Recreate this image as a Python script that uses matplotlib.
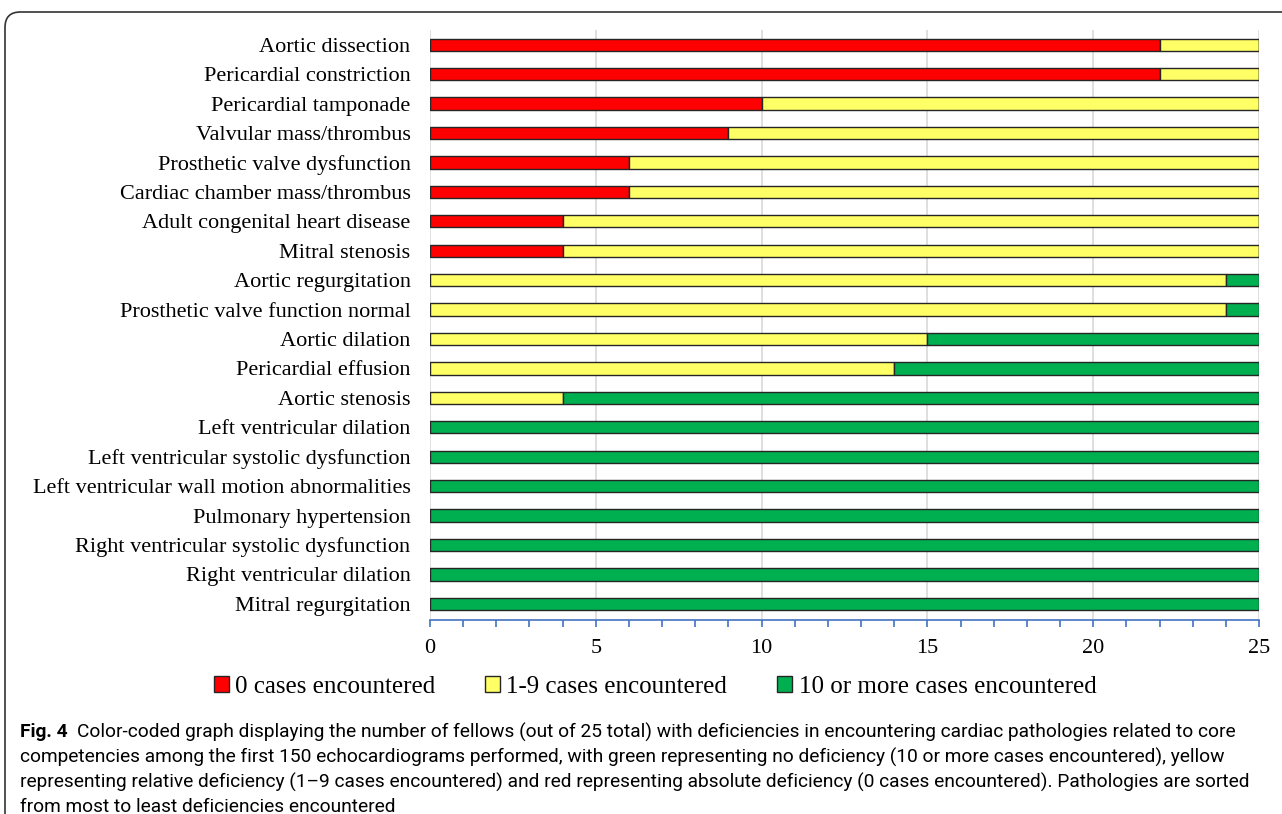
import matplotlib.pyplot as plt
import numpy as np
from matplotlib.patches import FancyBboxPatch, Patch
from matplotlib.ticker import MultipleLocator

# pathologies, top of chart first
pathologies = [
    'Aortic dissection', 'Pericardial constriction', 'Pericardial tamponade',
    'Valvular mass/thrombus', 'Prosthetic valve dysfunction',
    'Cardiac chamber mass/thrombus', 'Adult congenital heart disease',
    'Mitral stenosis', 'Aortic regurgitation', 'Prosthetic valve function normal',
    'Aortic dilation', 'Pericardial effusion', 'Aortic stenosis',
    'Left ventricular dilation', 'Left ventricular systolic dysfunction',
    'Left ventricular wall motion abnormalities', 'Pulmonary hypertension',
    'Right ventricular systolic dysfunction', 'Right ventricular dilation',
    'Mitral regurgitation',
]
# fellows per group (out of 25)
zero_cases = [22, 22, 10, 9, 6, 6, 4, 4, 0, 0, 0, 0, 0, 0, 0, 0, 0, 0, 0, 0]
few_cases = [3, 3, 15, 16, 19, 19, 21, 21, 24, 24, 15, 14, 4, 0, 0, 0, 0, 0, 0, 0]
many_cases = [0, 0, 0, 0, 0, 0, 0, 0, 1, 1, 10, 11, 21, 25, 25, 25, 25, 25, 25, 25]

legend_labels = ['0 cases encountered', '1-9 cases encountered',
                 '10 or more cases encountered']
colors = ['#FF0000', '#FFFF66', '#00B050']

caption_lines = [
    'Color-coded graph displaying the number of fellows (out of 25 total) with deficiencies in encountering cardiac pathologies related to core',
    'competencies among the first 150 echocardiograms performed, with green representing no deficiency (10 or more cases encountered), yellow',
    'representing relative deficiency (1\u20139 cases encountered) and red representing absolute deficiency (0 cases encountered). Pathologies are sorted',
    'from most to least deficiencies encountered',
]

W, H = 1282, 814
fig = plt.figure(figsize=(W / 100, H / 100), dpi=100)
serif = ['Liberation Serif', 'DejaVu Serif']

# rounded frame running off the right and bottom edges
frame = FancyBboxPatch((5 / W, -0.1), 1.2, 1 - 12 / H + 0.1,
                       boxstyle='round,pad=0,rounding_size=0.012',
                       transform=fig.transFigure, fill=False,
                       edgecolor='#333333', linewidth=1.2, mutation_aspect=W / H)
fig.patches.append(frame)

ax = fig.add_axes([430 / W, 1 - 620 / H, (1259 - 430) / W, (620 - 30) / H])

y = np.arange(len(pathologies))[::-1]
left = np.zeros(len(pathologies))
for vals, c in zip([zero_cases, few_cases, many_cases], colors):
    vals = np.array(vals, dtype=float)
    ax.barh(y, vals, left=left, height=0.42, color=c,
            edgecolor='#262626', linewidth=1.0, zorder=3)
    left += vals

ax.set_xlim(0, 25)
ax.set_ylim(-0.55, 19.5)
ax.set_yticks(y)
ax.set_yticklabels(pathologies, fontfamily=serif, fontsize=16)
ax.tick_params(axis='y', length=0, pad=14)

ax.xaxis.set_major_locator(MultipleLocator(5))
ax.xaxis.set_minor_locator(MultipleLocator(1))
ax.tick_params(axis='x', which='both', direction='out', length=5,
               color='#4472C4', width=1.2)
ax.tick_params(axis='x', which='major', pad=9)
for lab in ax.get_xticklabels():
    lab.set_fontfamily(serif)
    lab.set_fontsize(16)

ax.grid(axis='x', which='major', color='#D9D9D9', linewidth=1.2, zorder=0)
ax.set_axisbelow(True)
for s in ['top', 'right', 'left']:
    ax.spines[s].set_visible(False)
ax.spines['bottom'].set_color('#4472C4')
ax.spines['bottom'].set_linewidth(1.2)

handles = [Patch(facecolor=c, edgecolor='#262626', linewidth=1.0) for c in colors]
fig.legend(handles, legend_labels, loc='center', ncol=3, frameon=False,
           bbox_to_anchor=(655 / W, 1 - 687 / H),
           prop={'family': serif, 'size': 18},
           handlelength=0.6, handleheight=0.6, handletextpad=0.25,
           columnspacing=2.0)

# caption: bold figure number followed by the description
cap_font = ['Roboto', 'DejaVu Sans']
cap_size = 13.8
fig_no = fig.text(20 / W, 1 - 732 / H, 'Fig. 4', fontfamily=cap_font,
                  fontweight='bold', fontsize=cap_size, va='center', ha='left')
fig.canvas.draw()
bb = fig_no.get_window_extent()
fig.text((bb.x1 + 9) / W, 1 - 732 / H, caption_lines[0], fontfamily=cap_font,
         fontsize=cap_size, va='center', ha='left')
for i, line in enumerate(caption_lines[1:]):
    fig.text(20 / W, 1 - (757 + 25 * i) / H, line, fontfamily=cap_font,
             fontsize=cap_size, va='center', ha='left')

fig.savefig('out.png', dpi=100)
